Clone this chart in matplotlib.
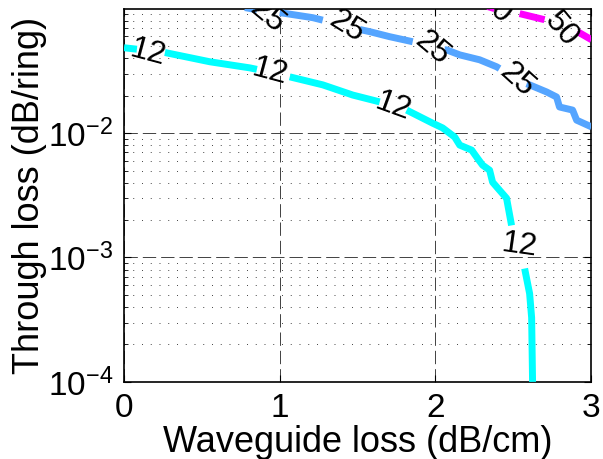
import numpy as np
import matplotlib
matplotlib.use("Agg")
import matplotlib.pyplot as plt
from matplotlib.ticker import LogLocator, FixedLocator, NullFormatter

plt.rcParams['font.family'] = ['Liberation Sans', 'DejaVu Sans']
plt.rcParams['mathtext.fontset'] = 'custom'
plt.rcParams['mathtext.rm'] = 'Liberation Sans'
plt.rcParams['mathtext.it'] = 'Liberation Sans:italic'

# contour lines (nan = gap where a label sits)
nan = np.nan
cyan_x = [0.0, 0.083, nan, 0.263, 0.552, 0.809, 0.854, nan, 1.065, 1.277, 1.470, 1.643, nan,
          1.816, 1.983, 2.047, 2.125, 2.157, 2.234, 2.266, 2.304, 2.349, 2.368, 2.413, 2.458,
          2.490, nan, 2.574, 2.606, 2.619, 2.625]
cyan_y = [0.0485, 0.0472, nan, 0.0444, 0.0374, 0.0334, 0.0325, nan, 0.0283, 0.0244, 0.0202, 0.0178, nan,
          0.0153, 0.0120, 0.0110, 0.00928, 0.0080, 0.00729, 0.00640, 0.00552, 0.00503, 0.00403, 0.00347, 0.00299,
          0.00181, nan, 0.000815, 0.000513, 0.000328, 0.0001]

blue_x = [0.777, 0.854, nan, 1.001, 1.213, 1.277, nan, 1.515, 1.579, 1.707, 1.855, nan,
          2.06, 2.073, 2.157, 2.285, 2.394, 2.413, nan, 2.587, 2.606, 2.715, 2.779, 2.798,
          2.882, 2.908, 3.004]
blue_y = [0.102, 0.098, nan, 0.0929, 0.0846, 0.0808, nan, 0.068, 0.0653, 0.0595, 0.0542, nan,
          0.0467, 0.0466, 0.0425, 0.0388, 0.0341, 0.033, nan, 0.0249, 0.0244, 0.0214, 0.0195, 0.0162,
          0.0153, 0.0127, 0.0112]

mag_x = [2.336, 2.381, nan, 2.542, 2.702, nan, 2.914, 3.004]
mag_y = [0.104, 0.100, nan, 0.0912, 0.0815, nan, 0.0653, 0.0562]

# contour labels: (x, y, rotation)
cyan_labels = [(0.154, 0.0442, -15), (0.937, 0.031, -15), (1.727, 0.0162, -20), (2.542, 0.00125, -8)]
blue_labels = [(0.918, 0.086, -40), (1.431, 0.0716, -32), (1.977, 0.0484, -40), (2.522, 0.0267, -42)]
mag_labels = [(2.381, 0.102, -40), (2.811, 0.0678, -50)]

fig = plt.figure(figsize=(6.03, 4.59), dpi=100)
ax = fig.add_axes([0.2056, 0.168, 0.7744, 0.812])

ax.set_yscale('log')
ax.set_xlim(0, 3)
ax.set_ylim(1e-4, 0.099)

ax.plot(cyan_x, cyan_y, color='#00FFFF', lw=5, solid_capstyle='butt', zorder=3)
ax.plot(blue_x, blue_y, color='#55A5FF', lw=5, solid_capstyle='butt', zorder=3)
ax.plot(mag_x, mag_y, color='#FF00FF', lw=5, solid_capstyle='butt', zorder=3)

for lvl, labs in (('12', cyan_labels), ('25', blue_labels), ('50', mag_labels)):
    for x, y, r in labs:
        ax.text(x, y, lvl, rotation=r, ha='center', va='center', fontsize=23,
                rotation_mode='anchor', clip_on=True, zorder=4)

ax.xaxis.set_major_locator(FixedLocator([0, 1, 2, 3]))
ax.yaxis.set_major_locator(FixedLocator([1e-4, 1e-3, 1e-2]))
ax.yaxis.set_minor_locator(LogLocator(base=10, subs=np.arange(2, 10)))
ax.yaxis.set_minor_formatter(NullFormatter())
ax.set_yticklabels([r'$10^{-4}$', r'$10^{-3}$', r'$10^{-2}$'])

ax.grid(True, which='major', color='#222222', linestyle=(0, (16, 6)), lw=0.6)
ax.grid(True, which='minor', axis='y', color='#444444', linestyle=(0, (1, 8)), lw=0.7)

ax.tick_params(axis='both', which='both', direction='in', top=True, right=True, labelsize=24)
ax.tick_params(axis='both', which='major', length=5, pad=8)
ax.tick_params(axis='both', which='minor', length=3)
for s in ax.spines.values():
    s.set_linewidth(1.2)

ax.set_xlabel('Waveguide loss (dB/cm)', fontsize=26)
ax.set_ylabel('Through loss (dB/ring)', fontsize=26)
ax.xaxis.set_label_coords(0.5, -0.115)
ax.yaxis.set_label_coords(-0.165, 0.5)

fig.savefig('out.png', dpi=100)
